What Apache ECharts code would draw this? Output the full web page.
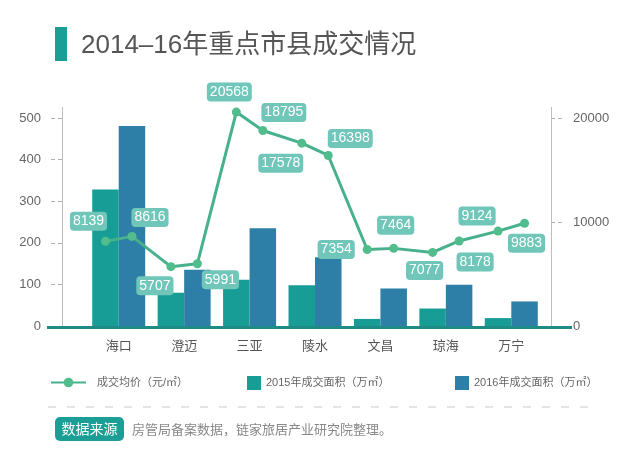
<!DOCTYPE html>
<html>
<head>
<meta charset="utf-8">
<script src="https://cdn.jsdelivr.net/npm/echarts@6/dist/echarts.min.js"></script>
<style>
html,body{margin:0;padding:0;background:#fff;}
#c{width:640px;height:474px;}
</style>
</head>
<body>
<div id="c"></div>
<script>
// ---- data ----
const cities = ['海口', '澄迈', '三亚', '陵水', '文昌', '琼海', '万宁'];
const area2015 = [328, 80, 111, 98, 17, 42, 19];
const area2016 = [481, 135, 235, 165, 90, 99, 59];
const price2015 = [8139, 5707, 20568, 17578, 7354, 7077, 9124];
const price2016 = [8616, 5991, 18795, 16398, 7464, 8178, 9883];
const leftTicks = [0, 100, 200, 300, 400, 500];
const rightTicks = [0, 10000, 20000];

// ---- style / layout ----
const FONT = "'Liberation Sans','Noto Sans CJK SC',sans-serif";
const W = 640;
const GRID = {left: 86, right: 96, top: 118, bottom: 148};
const BAR_W = 26.5;
const bandW = (W - GRID.left - GRID.right) / cities.length;
const off = BAR_W / 2 / bandW;
// label offsets (px) relative to each point, in line order
const labelOffsets = [
  [-17, -20], [18, -19],
  [-16, 19], [23, 16],
  [-7, -20], [21, -18],
  [-21, 20], [22, -17],
  [-31, 0], [2, -23],
  [-8, 18], [16, 21],
  [-21, -15], [2, 20]
];

const lineData = [];
cities.forEach((c, i) => {
  lineData.push([i - off, price2015[i]]);
  lineData.push([i + off, price2016[i]]);
});
const lineItems = lineData.map((d, k) => ({
  value: d,
  label: {offset: labelOffsets[k]}
}));

const chart = echarts.init(document.getElementById('c'), null, {renderer: 'canvas'});
const axisGray = '#bdbdbd';
const tickStyle = {show: true, inside: false, length: 14, lineStyle: {color: '#b0b0b0', width: 1, type: [4, 3]}};
const option = {
  animation: false,
  backgroundColor: '#fff',
  textStyle: {fontFamily: FONT},
  title: {
    text: '2014–16年重点市县成交情况',
    left: 76, top: 28,
    textStyle: {fontSize: 26, fontWeight: 'normal', color: '#555', fontFamily: FONT}
  },
  legend: [
    {left: 45, top: 372, itemWidth: 35, itemHeight: 12, data: ['成交均价（元/㎡）'],
     textStyle: {fontSize: 11, color: '#666', padding: [0, 0, 0, 6], fontFamily: FONT}},
    {left: 242, top: 371, itemWidth: 14, itemHeight: 14, icon: 'rect', data: ['2015年成交面积（万㎡）'],
     textStyle: {fontSize: 11, color: '#666', fontFamily: FONT}},
    {left: 450, top: 371, itemWidth: 14, itemHeight: 14, icon: 'rect', data: ['2016年成交面积（万㎡）'],
     textStyle: {fontSize: 11, color: '#666', fontFamily: FONT}}
  ],
  grid: {left: GRID.left, right: GRID.right, top: GRID.top, bottom: GRID.bottom, containLabel: false, outerBoundsMode: 'none'},
  xAxis: [
    {type: 'category', data: cities,
     axisLine: {show: false, onZero: false}, axisTick: {show: false},
     axisLabel: {color: '#555', fontSize: 13, margin: 14, fontFamily: FONT}},
    {type: 'value', min: -0.5, max: cities.length - 0.5, show: false, axisLine: {onZero: false}}
  ],
  yAxis: [
    {type: 'value', min: leftTicks[0], max: leftTicks[leftTicks.length - 1], interval: leftTicks[1] - leftTicks[0],
     position: 'left', offset: 24,
     axisLine: {show: false, onZero: false},
     axisTick: tickStyle,
     splitLine: {show: false},
     axisLabel: {color: '#666', fontSize: 13, margin: 21, fontFamily: FONT, formatter: v => String(v)}},
    {type: 'value', min: rightTicks[0], max: rightTicks[rightTicks.length - 1], interval: rightTicks[1] - rightTicks[0],
     position: 'right', offset: 7,
     axisLine: {show: false, onZero: false},
     axisTick: tickStyle,
     splitLine: {show: false},
     axisLabel: {color: '#666', fontSize: 13, margin: 22, fontFamily: FONT, formatter: v => String(v)}}
  ],
  series: [
    {name: '2015年成交面积（万㎡）', type: 'bar', data: area2015, barWidth: BAR_W, barGap: '0%',
     itemStyle: {color: '#179d96'}, z: 2},
    {name: '2016年成交面积（万㎡）', type: 'bar', data: area2016, barWidth: BAR_W, barGap: '0%',
     itemStyle: {color: '#2d7fa7'}, z: 2},
    {name: '成交均价（元/㎡）', type: 'line', xAxisIndex: 1, yAxisIndex: 1, data: lineItems,
     symbol: 'circle', symbolSize: 9, clip: false,
     lineStyle: {color: '#46b18b', width: 3},
     itemStyle: {color: '#52bd8c'},
     z: 5,
     label: {show: true, position: 'inside', color: '#fff', fontSize: 14, fontFamily: FONT,
             backgroundColor: '#6fc6b9', borderRadius: 4, padding: [3, 3, 2, 3],
             formatter: p => p.value[1]}}
  ],
  graphic: [
    {type: 'rect', shape: {x: 55, y: 27, width: 12, height: 34}, style: {fill: '#1a9e96'}},
    {type: 'line', shape: {x1: 62.5, y1: 107, x2: 62.5, y2: 327}, style: {stroke: axisGray, lineWidth: 1}, z: 1},
    {type: 'line', shape: {x1: 551.5, y1: 107, x2: 551.5, y2: 327}, style: {stroke: axisGray, lineWidth: 1}, z: 1},
    {type: 'line', shape: {x1: 47, y1: 327.5, x2: 572, y2: 327.5}, style: {stroke: '#1f8b87', lineWidth: 3}, z: 10},
    {type: 'line', shape: {x1: 48, y1: 407, x2: 592, y2: 407}, style: {stroke: '#dcdcdc', lineWidth: 1.5, lineDash: [8, 11]}},
    {type: 'rect', shape: {x: 55, y: 417, width: 69, height: 24, r: 5}, style: {fill: '#1a9e96'}},
    {type: 'text', x: 89.5, y: 429, style: {text: '数据来源', fill: '#fff', font: "14px 'Noto Sans CJK SC', sans-serif", textAlign: 'center', textVerticalAlign: 'middle'}},
    {type: 'text', x: 132, y: 429, style: {text: '房管局备案数据，链家旅居产业研究院整理。', fill: '#888', font: "13px 'Noto Sans CJK SC', sans-serif", textAlign: 'left', textVerticalAlign: 'middle'}}
  ]
};
chart.setOption(option);
</script>
</body>
</html>
